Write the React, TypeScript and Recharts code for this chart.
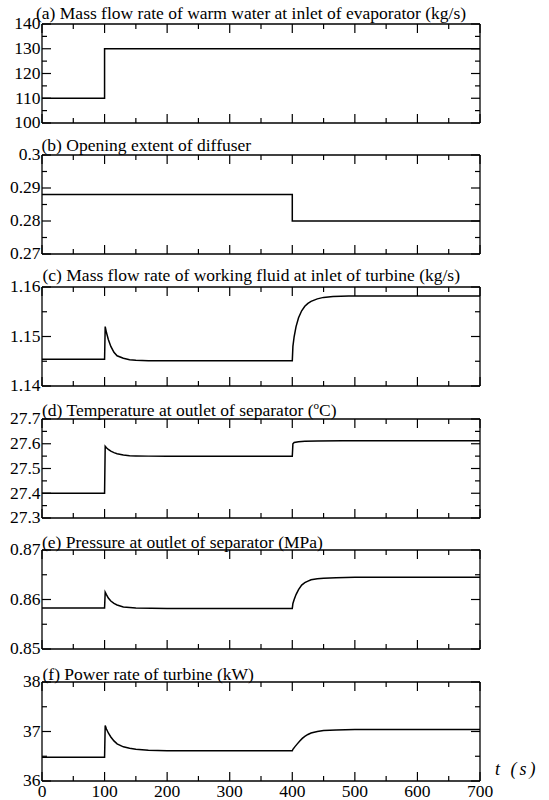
import React from "react";
import { LineChart, Line, XAxis, YAxis } from "recharts";

const FONT = "Liberation Serif";
const FS = 17.5;

// time axis (s)
const xMajor = [0, 100, 200, 300, 400, 500, 600, 700];
const xMinor = [50, 150, 250, 350, 450, 550, 650];

// (a) mass flow rate of warm water (kg/s)
const tA = [0, 100, 100, 700];
const vA = [110, 110, 130, 130];
const yMajorA = [100, 110, 120, 130, 140];
const yMinorA = [105, 115, 125, 135];

// (b) opening extent of diffuser
const tB = [0, 400, 400, 700];
const vB = [0.288, 0.288, 0.28, 0.28];
const yMajorB = [0.27, 0.28, 0.29, 0.3];
const yMinorB = [0.275, 0.285, 0.295];

// (c) mass flow rate of working fluid (kg/s)
const tC = [0, 100, 101, 103, 106, 110, 115, 120, 130, 140, 150, 170, 200, 300, 400, 401, 403, 406, 410, 415, 420, 425, 430, 440, 450, 465, 490, 600, 700];
const vC = [1.1454, 1.1454, 1.152, 1.1508, 1.1494, 1.148, 1.1468, 1.1461, 1.1456, 1.1453, 1.1452, 1.1451, 1.1451, 1.1451, 1.1451, 1.148, 1.15, 1.152, 1.1538, 1.1552, 1.1561, 1.1567, 1.1571, 1.1576, 1.1579, 1.1581, 1.1582, 1.1582, 1.1582];
const yMajorC = [1.14, 1.15, 1.16];
const yMinorC = [1.145, 1.155];

// (d) temperature at outlet of separator (C)
const tD = [0, 100, 101, 103, 106, 110, 115, 120, 130, 140, 150, 170, 200, 300, 400, 401, 403, 410, 420, 440, 480, 600, 700];
const vD = [27.4, 27.4, 27.59, 27.584, 27.577, 27.57, 27.564, 27.56, 27.555, 27.552, 27.551, 27.55, 27.549, 27.549, 27.549, 27.6, 27.605, 27.608, 27.61, 27.611, 27.612, 27.612, 27.612];
const yMajorD = [27.3, 27.4, 27.5, 27.6, 27.7];
const yMinorD = [27.35, 27.45, 27.55, 27.65];

// (e) pressure at outlet of separator (MPa)
const tE = [0, 100, 101, 103, 106, 110, 115, 120, 130, 140, 150, 200, 300, 400, 401, 403, 406, 410, 415, 420, 425, 430, 440, 450, 470, 500, 600, 700];
const vE = [0.8583, 0.8583, 0.8615, 0.861, 0.8603, 0.8597, 0.8592, 0.8589, 0.8585, 0.8584, 0.8583, 0.8582, 0.8582, 0.8582, 0.8592, 0.86, 0.861, 0.862, 0.8629, 0.8634, 0.8637, 0.864, 0.8642, 0.8643, 0.8644, 0.8645, 0.8645, 0.8645];
const yMajorE = [0.85, 0.86, 0.87];
const yMinorE = [0.855, 0.865];

// (f) power rate of turbine (kW)
const tF = [0, 100, 101, 103, 106, 110, 115, 120, 130, 140, 150, 170, 200, 300, 400, 401, 404, 408, 412, 416, 420, 425, 430, 440, 450, 470, 500, 600, 700];
const vF = [36.48, 36.48, 37.12, 37.05, 36.97, 36.89, 36.81, 36.75, 36.69, 36.66, 36.64, 36.62, 36.61, 36.61, 36.61, 36.64, 36.69, 36.75, 36.81, 36.86, 36.9, 36.94, 36.97, 37.0, 37.02, 37.03, 37.04, 37.04, 37.04];
const yMajorF = [36, 37, 38];
const yMinorF = [36.5, 37.5];

const titles = [
  "(a) Mass flow rate of warm water at inlet of evaporator (kg/s)",
  "(b) Opening extent of diffuser",
  "(c) Mass flow rate of working fluid at inlet of turbine (kg/s)",
  "(d) Temperature at outlet of separator (",
  "(e) Pressure at outlet of separator (MPa)",
  "(f) Power rate of turbine (kW)",
];

const toRows = (t: number[], v: number[]) => t.map((x, i) => ({ t: x, v: v[i] }));

const panels = [
  { rows: toRows(tA, vA), major: yMajorA, minor: yMinorA },
  { rows: toRows(tB, vB), major: yMajorB, minor: yMinorB },
  { rows: toRows(tC, vC), major: yMajorC, minor: yMinorC },
  { rows: toRows(tD, vD), major: yMajorD, minor: yMinorD },
  { rows: toRows(tE, vE), major: yMajorE, minor: yMinorE },
  { rows: toRows(tF, vF), major: yMajorF, minor: yMinorF },
];

// layout
const W = 549;
const PLOT_LEFT = 42;
const PLOT_RIGHT = 480;
const PLOT_H = 99;
const PAD = 10;
const plotTops = [24, 155, 287, 419, 550, 682];
const titleX = [36, 41.5, 42.5, 42, 42, 42.5];
const titleBase = [18.5, 151, 281, 415.5, 548, 679.5];

const BIG = 9;
const SMALL = 5;
const AXIS = { stroke: "#000", strokeWidth: 1.3 };
const isIn = (v: number, list: number[]) => list.some((m) => Math.abs(m - v) < 1e-9);

function Panel({ idx }: { idx: number }) {
  const p = panels[idx];
  const last = idx === panels.length - 1;
  const mb = last ? 22 : PAD;
  const dom = [p.major[0], p.major[p.major.length - 1]];
  const yTicks = [...p.major, ...p.minor];
  const xTicks = [...xMajor, ...xMinor];

  const leftTick = (props: any) => {
    const { x, y, payload } = props;
    const big = isIn(payload.value, p.major);
    return (
      <g>
        <line x1={x} x2={x + (big ? BIG : SMALL)} y1={y} y2={y} stroke="#000" strokeWidth={1.2} />
        {big && (
          <text x={x - 1.5} y={y} dy="0.3em" textAnchor="end" fontFamily={FONT} fontSize={FS} fill="#000">
            {String(payload.value)}
          </text>
        )}
      </g>
    );
  };
  const rightTick = (props: any) => {
    const { x, y, payload } = props;
    const big = isIn(payload.value, p.major);
    return <line x1={x} x2={x - (big ? BIG : SMALL)} y1={y} y2={y} stroke="#000" strokeWidth={1.2} />;
  };
  const topTick = (props: any) => {
    const { x, y, payload } = props;
    const big = isIn(payload.value, xMajor);
    return <line x1={x} x2={x} y1={y} y2={y + (big ? BIG : SMALL)} stroke="#000" strokeWidth={1.2} />;
  };
  const bottomTick = (props: any) => {
    const { x, y, payload } = props;
    const big = isIn(payload.value, xMajor);
    return (
      <g>
        <line x1={x} x2={x} y1={y} y2={y - (big ? BIG : SMALL)} stroke="#000" strokeWidth={1.2} />
        {last && big && (
          <text x={x} y={y + 16} textAnchor="middle" fontFamily={FONT} fontSize={FS} fill="#000">
            {String(payload.value)}
          </text>
        )}
      </g>
    );
  };

  return (
    <div style={{ position: "absolute", left: 0, top: plotTops[idx] - PAD }}>
      <LineChart
        width={W}
        height={PLOT_H + PAD + mb}
        data={p.rows}
        margin={{ top: PAD - 1, right: W - PLOT_RIGHT - 1, bottom: mb - 1, left: 0 }}
      >
        <XAxis xAxisId="b" dataKey="t" type="number" domain={[0, 700]} allowDataOverflow ticks={xTicks} interval={0}
          height={1} tickSize={0} tickMargin={0} tickLine={false} axisLine={AXIS} tick={bottomTick} />
        <XAxis xAxisId="t" orientation="top" dataKey="t" type="number" domain={[0, 700]} allowDataOverflow ticks={xTicks} interval={0}
          height={1} tickSize={0} tickMargin={0} tickLine={false} axisLine={AXIS} tick={topTick} />
        <YAxis yAxisId="l" type="number" domain={dom} allowDataOverflow ticks={yTicks} interval={0}
          width={PLOT_LEFT} tickSize={0} tickMargin={0} tickLine={false} axisLine={AXIS} tick={leftTick} />
        <YAxis yAxisId="r" orientation="right" type="number" domain={dom} allowDataOverflow ticks={yTicks} interval={0}
          width={1} tickSize={0} tickMargin={0} tickLine={false} axisLine={AXIS} tick={rightTick} />
        <Line xAxisId="b" yAxisId="l" type="linear" dataKey="v" stroke="#000" strokeWidth={1.5} dot={false}
          activeDot={false} isAnimationActive={false} />
      </LineChart>
    </div>
  );
}

export default function App() {
  return (
    <div style={{ position: "absolute", left: 0, top: 0, width: W, height: 800, background: "#fff" }}>
      {panels.map((_, i) => (
        <Panel key={i} idx={i} />
      ))}
      <svg width={W} height={800} style={{ position: "absolute", left: 0, top: 0, pointerEvents: "none" }}>
        {titles.map((s, i) => (
          <text key={i} x={titleX[i]} y={titleBase[i]} fontFamily={FONT} fontSize={FS} fill="#000">
            {s}
            {i === 3 && (
              <>
                <tspan dy={-7} fontSize={11}>o</tspan>
                <tspan dy={7}>C)</tspan>
              </>
            )}
          </text>
        ))}
        <text x={495} y={775} fontFamily={FONT} fontSize={18} fontStyle="italic" fill="#000" letterSpacing={3}>
          t (s)
        </text>
      </svg>
    </div>
  );
}
